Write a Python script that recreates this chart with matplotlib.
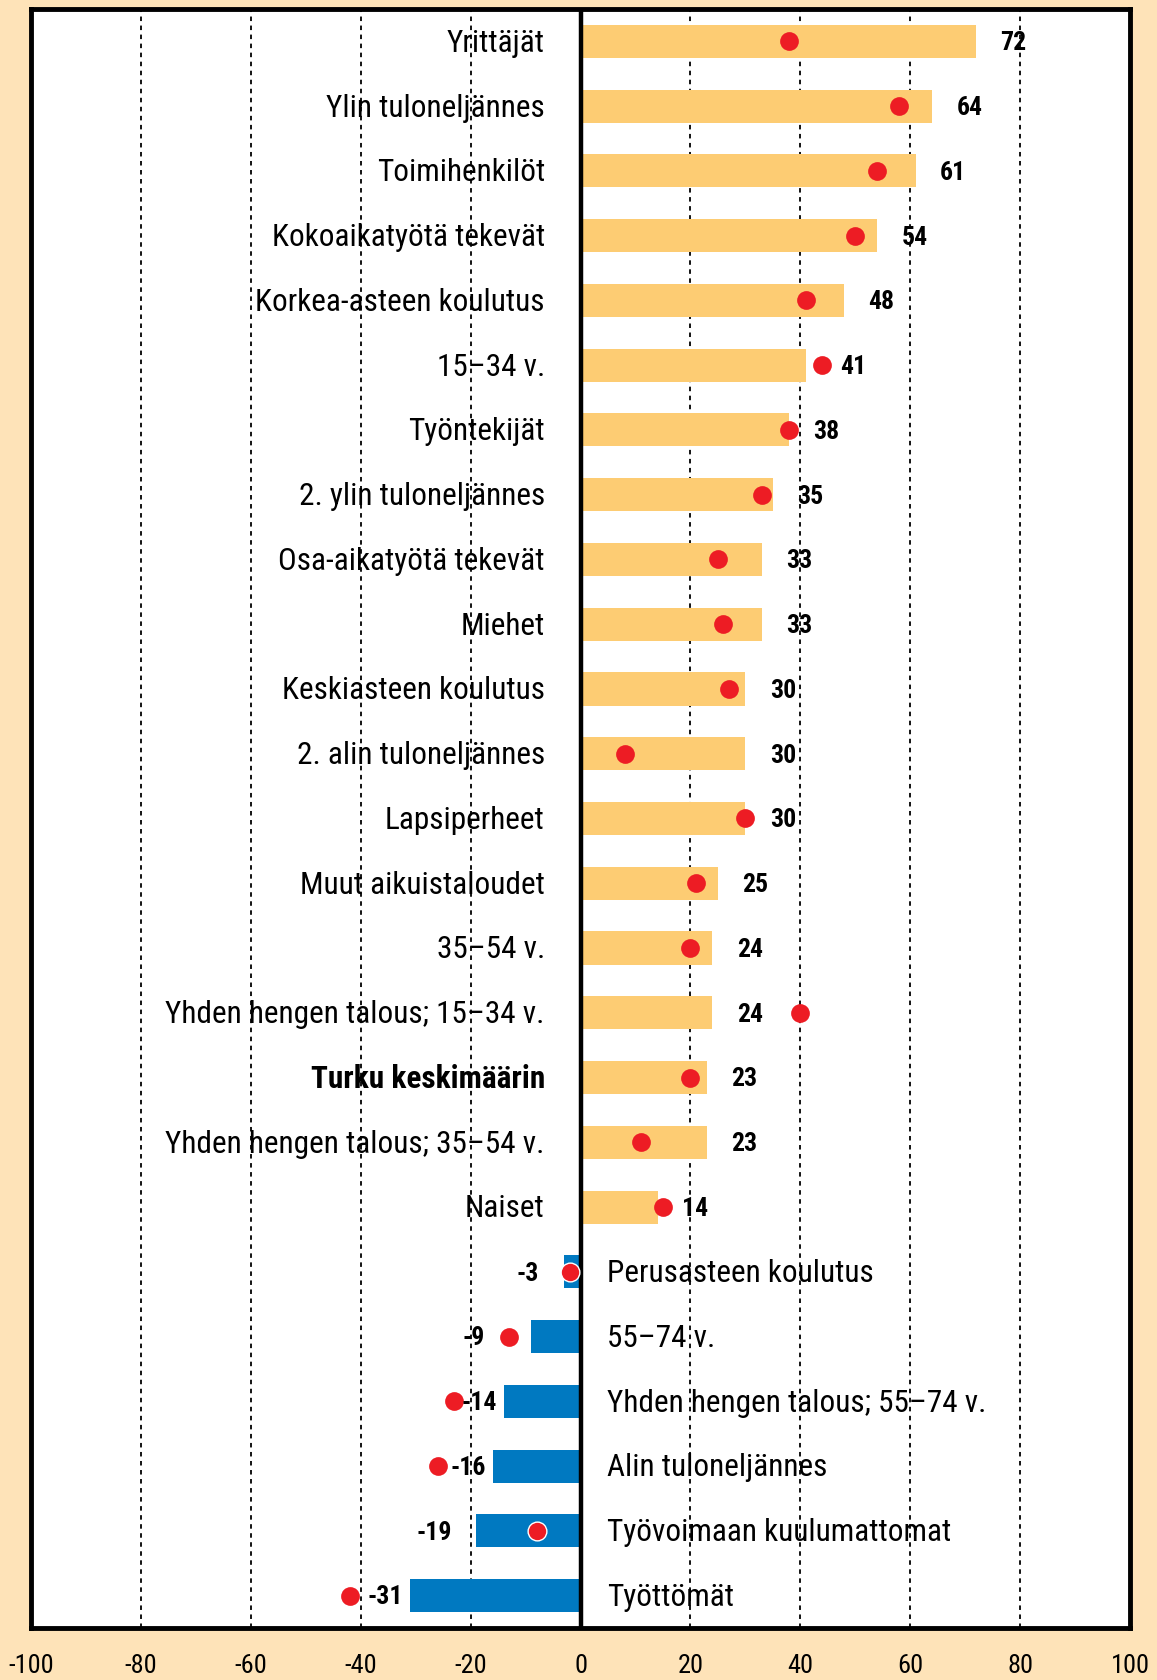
import matplotlib
matplotlib.use("Agg")
import matplotlib.pyplot as plt
from matplotlib import font_manager

categories = ["Yrittäjät", "Ylin tuloneljännes", "Toimihenkilöt", "Kokoaikatyötä tekevät",
              "Korkea-asteen koulutus", "15–34 v.", "Työntekijät", "2. ylin tuloneljännes",
              "Osa-aikatyötä tekevät", "Miehet", "Keskiasteen koulutus", "2. alin tuloneljännes",
              "Lapsiperheet", "Muut aikuistaloudet", "35–54 v.", "Yhden hengen talous; 15–34 v.",
              "Turku keskimäärin", "Yhden hengen talous; 35–54 v.", "Naiset",
              "Perusasteen koulutus", "55–74 v.", "Yhden hengen talous; 55–74 v.",
              "Alin tuloneljännes", "Työvoimaan kuulumattomat", "Työttömät"]
bar_values = [72, 64, 61, 54, 48, 41, 38, 35, 33, 33, 30, 30, 30, 25, 24, 24, 23, 23, 14,
              -3, -9, -14, -16, -19, -31]
dot_values = [38, 58, 54, 50, 41, 44, 38, 33, 25, 26, 27, 8, 30, 21, 20, 40, 20, 11, 15,
              -2, -13, -23, -26, -8, -42]
bold_category = "Turku keskimäärin"
xticks = [-100, -80, -60, -40, -20, 0, 20, 40, 60, 80, 100]

# pick a condensed font if one is installed
fonts = font_manager.fontManager.ttflist
names = {f.name for f in fonts}
FONT, STRETCH = "DejaVu Sans", "normal"
for cand in ["Liberation Sans Narrow", "Roboto Condensed", "Open Sans Condensed",
             "Noto Sans Condensed", "DejaVu Sans Condensed"]:
    if cand in names:
        FONT = cand
        break
else:
    if any(f.name == "DejaVu Sans" and "Condensed" in f.fname for f in fonts):
        FONT, STRETCH = "DejaVu Sans", "condensed"
TXT = dict(family=FONT, fontstretch=STRETCH)

BG = "#FEE3B8"
ORANGE = "#FDCC73"
BLUE = "#0079C1"
RED = "#ED1C24"

fig = plt.figure(figsize=(11.57, 16.8), dpi=100, facecolor=BG)
ax = fig.add_axes([0.0268, 0.031, 0.95, 0.9636])
ax.set_facecolor("white")

n = len(categories)
ys = list(range(n))
colors = [ORANGE if v >= 0 else BLUE for v in bar_values]
ax.barh(ys, bar_values, height=0.51, color=colors, zorder=2)

for x in [-80, -60, -40, -20, 20, 40, 60, 80]:
    ax.axvline(x, color="black", lw=1.3, linestyle=(0, (2.5, 2.5)), zorder=1)
ax.axvline(0, color="black", lw=3.2, zorder=4)

for y, d, v in zip(ys, dot_values, bar_values):
    inside_neg = v < 0 and v <= d <= 0
    ax.plot(d, y, "o", ms=13.5, color=RED, mec="white" if inside_neg else RED,
            mew=1.0 if inside_neg else 0, zorder=5)

for y, cat, v, d in zip(ys, categories, bar_values, dot_values):
    w = "bold" if cat == bold_category else "normal"
    if v >= 0:
        ax.text(-6.5, y + 0.03, cat, ha="right", va="center", fontsize=22.5, fontweight=w,
                zorder=6, **TXT)
        xl = v + 4.4 if (d - v) >= 8 else max(v + 4.4, d + 3.2)
        ax.text(xl, y + 0.03, str(v), ha="left", va="center", fontsize=18.5,
                fontweight="bold", zorder=6, **TXT)
    else:
        ax.text(4.8, y + 0.03, cat, ha="left", va="center", fontsize=22.5, fontweight=w,
                zorder=6, **TXT)
        xr = v - 1.3 if (v - d) >= 8 else min(v, d) - 4.5
        ax.text(xr, y + 0.03, str(v), ha="right", va="center", fontsize=18.5,
                fontweight="bold", zorder=6, **TXT)

ax.set_xlim(-100, 100)
ax.set_ylim(n - 0.5, -0.5)
ax.set_yticks([])
ax.set_xticks(xticks)
ax.set_xticklabels([str(t) for t in xticks], fontsize=19, **TXT)
ax.tick_params(axis="x", length=0, pad=19)
for s in ax.spines.values():
    s.set_linewidth(3.5)
    s.set_color("black")
    s.set_zorder(7)

fig.savefig("out.png", dpi=100, facecolor=BG)
